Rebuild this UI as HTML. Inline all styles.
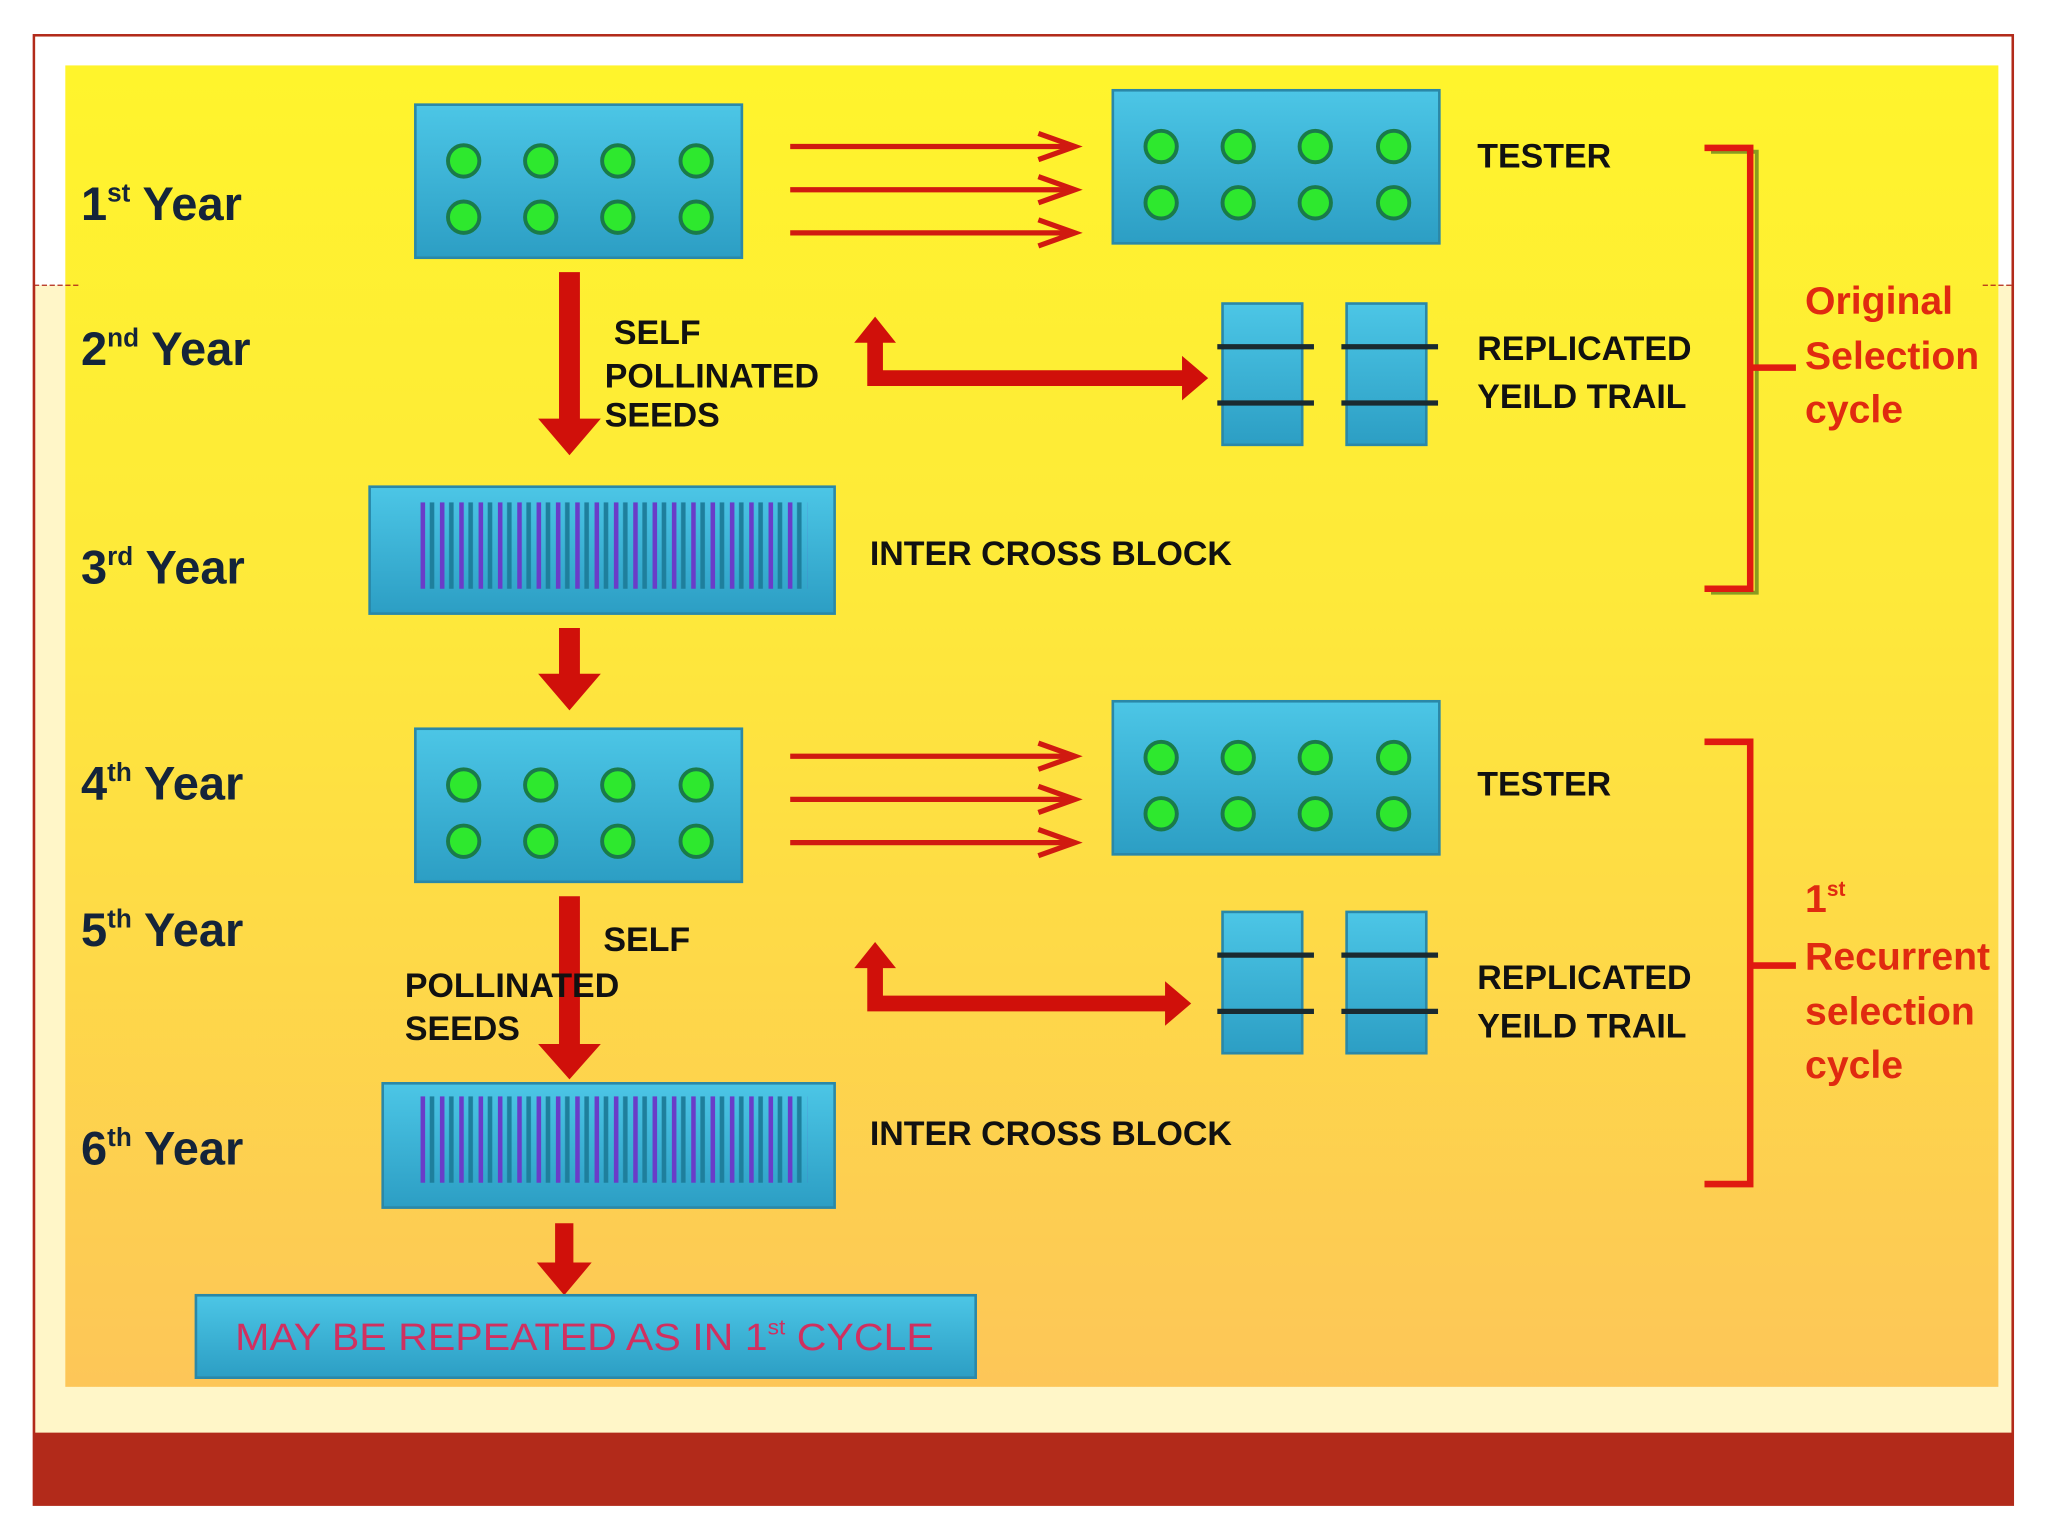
<!DOCTYPE html>
<html><head><meta charset="utf-8"><style>
html,body{margin:0;padding:0;background:#fff;}
svg{display:block;}
text{font-family:"Liberation Sans",Arial,sans-serif;font-weight:bold;}
</style></head><body>
<svg width="2048" height="1536" viewBox="0 0 1568 1174" preserveAspectRatio="none" xmlns="http://www.w3.org/2000/svg">
<defs>
<linearGradient id="bg" x1="0" y1="0" x2="0" y2="1">
<stop offset="0" stop-color="#fff42c"/><stop offset="0.4" stop-color="#fee93a"/><stop offset="1" stop-color="#fdc658"/>
</linearGradient>
<linearGradient id="bl" x1="0" y1="0" x2="0" y2="1">
<stop offset="0" stop-color="#4cc6e6"/><stop offset="1" stop-color="#2c9ec4"/>
</linearGradient>
<pattern id="st" x="322" y="0" width="14.8" height="10" patternUnits="userSpaceOnUse">
<rect x="0" y="0" width="3.5" height="10" fill="#6a3cc8"/><rect x="7" y="0" width="3.5" height="10" fill="#1e7f9c"/>
</pattern>
<g id="dots">
<rect x="0" y="0" width="250" height="117" fill="url(#bl)" stroke="#2a88a8" stroke-width="2"/>
<g fill="#2ee82e" stroke="#1a7a4a" stroke-width="3">
<circle cx="37" cy="43" r="12"/><circle cx="96" cy="43" r="12"/><circle cx="155" cy="43" r="12"/><circle cx="215" cy="43" r="12"/>
<circle cx="37" cy="86" r="12"/><circle cx="96" cy="86" r="12"/><circle cx="155" cy="86" r="12"/><circle cx="215" cy="86" r="12"/>
</g></g>
<g id="tri" fill="none" stroke="#d01a10" stroke-width="4">
<line x1="0" y1="0" x2="215" y2="0"/><line x1="0" y1="33" x2="215" y2="33"/><line x1="0" y1="66" x2="215" y2="66"/>
<polyline points="190,-10 218,0 190,10"/><polyline points="190,23 218,33 190,43"/><polyline points="190,56 218,66 190,76"/>
</g>
<g id="rep">
<rect x="0" y="0" width="61" height="108" fill="url(#bl)" stroke="#2a88a8" stroke-width="2"/>
<rect x="95" y="0" width="61" height="108" fill="url(#bl)" stroke="#2a88a8" stroke-width="2"/>
<g stroke="#1a2a30" stroke-width="4"><line x1="-4" y1="33" x2="70" y2="33"/><line x1="-4" y1="76" x2="70" y2="76"/>
<line x1="91" y1="33" x2="165" y2="33"/><line x1="91" y1="76" x2="165" y2="76"/></g>
</g>
</defs>
<rect x="26" y="27" width="1515" height="1123" fill="#fff6c8" stroke="#b22a1a" stroke-width="2"/>
<rect x="27" y="28" width="1513" height="190" fill="#fff"/>
<rect x="50" y="50" width="1480" height="1010" fill="url(#bg)"/>
<line x1="26" y1="218" x2="62" y2="218" stroke="#b22a1a" stroke-dasharray="4,2"/>
<line x1="1518" y1="218" x2="1541" y2="218" stroke="#b22a1a" stroke-dasharray="4,2"/>
<rect x="26" y="1095" width="1515" height="55" fill="#b22a1a"/>

<g fill="#14243a" font-size="36">
<text x="62" y="168">1<tspan font-size="20" dy="-14">st</tspan><tspan dy="14"> Year</tspan></text>
<text x="62" y="279">2<tspan font-size="20" dy="-14">nd</tspan><tspan dy="14"> Year</tspan></text>
<text x="62" y="446">3<tspan font-size="20" dy="-14">rd</tspan><tspan dy="14"> Year</tspan></text>
<text x="62" y="611">4<tspan font-size="20" dy="-14">th</tspan><tspan dy="14"> Year</tspan></text>
<text x="62" y="723">5<tspan font-size="20" dy="-14">th</tspan><tspan dy="14"> Year</tspan></text>
<text x="62" y="890">6<tspan font-size="20" dy="-14">th</tspan><tspan dy="14"> Year</tspan></text>
</g>

<use href="#dots" x="318" y="80"/>
<use href="#dots" x="852" y="69"/>
<use href="#tri" x="605" y="112"/>
<use href="#dots" x="318" y="557"/>
<use href="#dots" x="852" y="536"/>
<use href="#tri" x="605" y="578"/>

<g fill="#d0100a">
<polygon points="428,208 444,208 444,320 460,320 436,348 412,320 428,320"/>
<polygon points="428,480 444,480 444,515 460,515 436,543 412,515 428,515"/>
<polygon points="428,685 444,685 444,798 460,798 436,825 412,798 428,798"/>
<polygon points="425,935 439,935 439,965 453,965 432,990 411,965 425,965"/>
<polygon points="664,298 664,262 654,262 670,242 686,262 676,262 676,283 905,283 905,272 925,289 905,306 905,295 676,295 664,295"/>
<polygon points="664,776 664,740 654,740 670,720 686,740 676,740 676,761 892,761 892,750 912,767 892,784 892,773 676,773 664,773"/>
</g>

<g fill="#111" font-size="26">
<text x="470" y="263">SELF</text>
<text x="463" y="296">POLLINATED</text>
<text x="463" y="326">SEEDS</text>
<text x="462" y="727">SELF</text>
<text x="310" y="762">POLLINATED</text>
<text x="310" y="795">SEEDS</text>
<text x="1131" y="128">TESTER</text>
<text x="1131" y="275">REPLICATED</text>
<text x="1131" y="312">YEILD TRAIL</text>
<text x="1131" y="608">TESTER</text>
<text x="1131" y="756">REPLICATED</text>
<text x="1131" y="793">YEILD TRAIL</text>
<text x="666" y="432">INTER CROSS BLOCK</text>
<text x="666" y="875">INTER CROSS BLOCK</text>
</g>

<use href="#rep" x="936" y="232"/>
<use href="#rep" x="936" y="697"/>

<rect x="283" y="372" width="356" height="97" fill="url(#bl)" stroke="#2a88a8" stroke-width="2"/>
<rect x="320" y="384" width="298" height="66" fill="url(#st)"/>
<rect x="293" y="828" width="346" height="95" fill="url(#bl)" stroke="#2a88a8" stroke-width="2"/>
<rect x="320" y="838" width="298" height="66" fill="url(#st)"/>

<rect x="150" y="990" width="597" height="63" fill="url(#bl)" stroke="#2a88a8" stroke-width="2"/>
<text x="180" y="1032" fill="#d03060" font-size="29" font-weight="normal" textLength="535" lengthAdjust="spacingAndGlyphs" style="font-weight:normal">MAY BE REPEATED AS IN  1<tspan font-size="16" dy="-12">st</tspan><tspan dy="12"> CYCLE</tspan></text>

<g fill="none" stroke="#8a9a20" stroke-width="3">
<polyline points="1310,116 1345,116 1345,453 1310,453"/>
</g>
<g fill="none" stroke="#e01a10" stroke-width="5">
<polyline points="1305,113 1340,113 1340,450 1305,450"/>
<line x1="1340" y1="281" x2="1375" y2="281"/>
<polyline points="1305,567 1340,567 1340,905 1305,905"/>
<line x1="1340" y1="738" x2="1375" y2="738"/>
</g>
<g fill="#e02a10" font-size="30">
<text x="1382" y="240">Original</text>
<text x="1382" y="282">Selection</text>
<text x="1382" y="323">cycle</text>
<text x="1382" y="697">1<tspan font-size="16" dy="-12">st</tspan></text>
<text x="1382" y="741">Recurrent</text>
<text x="1382" y="783">selection</text>
<text x="1382" y="824">cycle</text>
</g>
</svg>
</body></html>
